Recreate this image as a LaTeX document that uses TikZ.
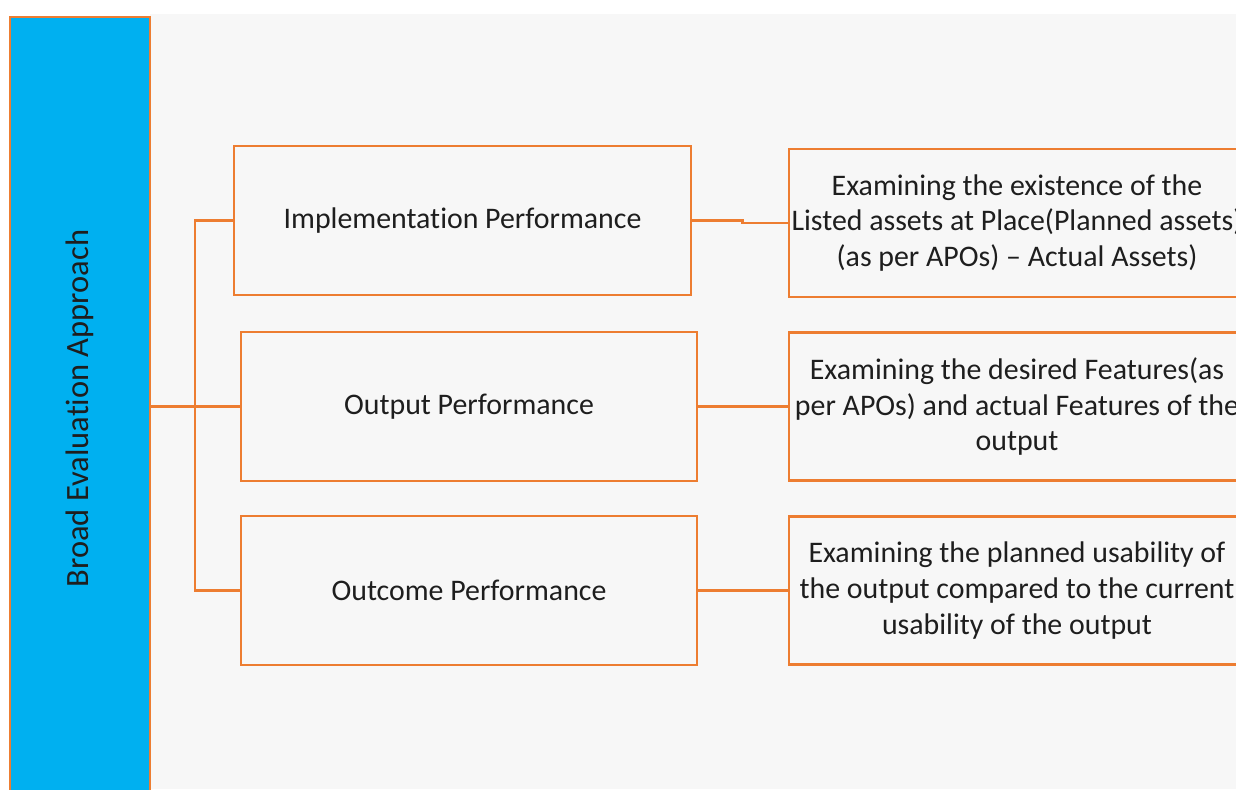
\documentclass[tikz,border=0pt]{standalone}
\usepackage{fontspec}
\setmainfont{Carlito}[Ligatures=NoCommon]
\usepackage{xcolor}
\usetikzlibrary{positioning}
\definecolor{apporange}{HTML}{ED7D31}
\definecolor{appblue}{HTML}{00B0F0}
\definecolor{appgray}{HTML}{F7F7F7}
\definecolor{apptext}{HTML}{1E1E1E}
\tikzset{
  perfbox/.style={draw=apporange, line width=1.5pt, fill=appgray, minimum width=9.14cm, minimum height=2.98cm, align=center, text=apptext, font=\fontsize{17}{20.3}\selectfont},
  checkbox/.style={perfbox, inner xsep=0pt, minimum width=9.12cm, minimum height=2.96cm},
  link/.style={draw=apporange, line width=1.5pt}
}
\begin{document}
\begin{tikzpicture}[x=0.02cm, y=-0.02cm]
% Frame and background
\useasboundingbox (0,0) rectangle (1236,789);
\clip (0,0) rectangle (1236,789);
\fill[white] (0,0) rectangle (1236,789);
\fill[appgray] (150,14) rectangle (1236,789);
% Left bar
\node[draw=apporange, line width=1.5pt, fill=appblue, rotate=90, minimum width=15.66cm, minimum height=2.8cm, text=apptext, font=\fontsize{18.5}{22}\selectfont] (broad) at (80,408.5) {Broad Evaluation Approach};
% Performance boxes
\node[perfbox] (impl) at (462.5,220.5) {Implementation Performance};
\node[perfbox, minimum width=9.12cm] (outp) at (469,406.5) {Output Performance};
\node[perfbox, minimum width=9.12cm] (outc) at (469,590.5) {Outcome Performance};
% Examination boxes (cut at right edge)
\node[checkbox] (exist) at (1017,223) {Examining the existence of the\\Listed assets at Place(Planned assets)\\(as per APOs) -- Actual Assets)};
\node[checkbox] (feat) at (1017,406.5) {Examining the desired Features(as\\per APOs) and actual Features of the\\output};
\node[checkbox] (usab) at (1017,590.5) {Examining the planned usability of\\the output compared to the current\\usability of the output};
% Connectors
\coordinate (fork) at (195,406.5);
\draw[link] (broad.south |- outp.west) -- (outp.west);
\draw[link] (impl.west) -| (fork) |- (outc.west);
\draw[link] (impl.east) -- ++(50,0) |- (exist.west);
\draw[link] (outp.east) -- (feat.west);
\draw[link] (outc.east) -- (usab.west);
\end{tikzpicture}
\end{document}
